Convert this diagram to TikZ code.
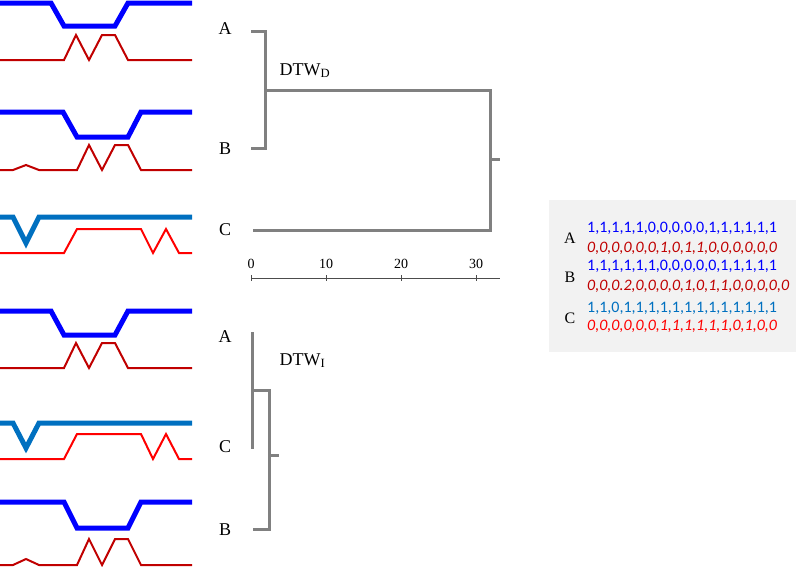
\documentclass[tikz,border=0pt]{standalone}
\usepackage{fontspec}
\setmainfont{Liberation Serif}
\newfontfamily\seqfont{Carlito}
\definecolor{seqblue}{HTML}{0000FF}
\definecolor{seqteal}{HTML}{0070C0}
\definecolor{seqdred}{HTML}{C00000}
\definecolor{seqred}{HTML}{FF0000}
\definecolor{treegray}{HTML}{808080}
\definecolor{boxgray}{HTML}{F2F2F2}
\tikzset{
  dimone/.style={draw=seqblue, line width=5pt},
  dimonec/.style={draw=seqteal, line width=5pt},
  dimtwo/.style={draw=seqdred, line width=2pt},
  dimtwoc/.style={draw=seqred, line width=2pt},
  tree/.style={draw=treegray, line width=3pt},
  axisline/.style={draw=black!70, line width=0.8pt},
  leaf/.style={font=\fontsize{18}{20}\selectfont, inner sep=0pt},
  seqline/.style={font=\seqfont\fontsize{16}{18}\selectfont, anchor=base west, inner sep=0pt}
}
\begin{document}
\begin{tikzpicture}[x=1pt, y=-1pt]
    \useasboundingbox (0,0) rectangle (800,566);

    % series A, B, C (top group)
    \path[dimone] (0,3) -- (51,3) -- (64,26) -- (115,26) -- (128,3) -- (192,3);
    \path[dimtwo] (0,60) -- (64,60) -- (76,35) -- (89,60) -- (102,35) -- (115,35) -- (128,60) -- (192,60);

    \path[dimone] (0,112) -- (63,112) -- (77,137) -- (128,137) -- (141,112) -- (192,112);
    \path[dimtwo] (0,170) -- (13,170) -- (26,165) -- (39,170) -- (77,170) -- (89,145) -- (102,170)
                  -- (115,145) -- (128,145) -- (141,170) -- (192,170);

    \path[dimonec] (0,217) -- (13,217) -- (26,243) -- (39,217) -- (192,217);
    \path[dimtwoc] (0,253) -- (64,253) -- (77,229) -- (141,229) -- (153,253) -- (166,229) -- (179,253) -- (192,253);

    % series A, C, B (bottom group)
    \path[dimone] (0,311) -- (51,311) -- (64,335) -- (115,335) -- (128,311) -- (192,311);
    \path[dimtwo] (0,368) -- (64,368) -- (76,343) -- (89,368) -- (102,343) -- (115,343) -- (128,368) -- (192,368);

    \path[dimonec] (0,423) -- (13,423) -- (26,448) -- (39,423) -- (192,423);
    \path[dimtwoc] (0,459) -- (64,459) -- (77,434) -- (141,434) -- (153,459) -- (166,434) -- (179,459) -- (192,459);

    \path[dimone] (0,502) -- (64,502) -- (77,528) -- (128,528) -- (141,502) -- (192,502);
    \path[dimtwo] (0,565) -- (13,565) -- (26,559) -- (39,565) -- (77,565) -- (89,539) -- (102,565)
                  -- (115,539) -- (128,539) -- (141,565) -- (192,565);

    % DTW_D dendrogram
    \node[leaf] (upA) at (225,29) {A};
    \node[leaf] (upB) at (225,149) {B};
    \node[leaf] (upC) at (225,230) {C};
    \coordinate (endA) at (251,31);
    \coordinate (endB) at (251,148);
    \coordinate (endC) at (253,230);
    \coordinate (joinAB) at (265,90);
    \coordinate (rootD) at (490,159);

    \path[tree] (endA) -- ++(14,0) |- (endB);
    \path[tree] (joinAB) -| (rootD) |- (endC);
    \path[tree] (rootD) -- ++(10,0);
    \node[font=\fontsize{18}{20}\selectfont, anchor=base west] (dtwd) at (276,75) {DTW\textsubscript{D}};

    % distance axis
    \path[axisline] (251,278) -- (500,278);
    \foreach \v/\x in {0/251,10/326,20/401,30/476} {
        \path[axisline] (\x,275) -- (\x,281);
        \node[font=\fontsize{14}{16}\selectfont, anchor=base, inner sep=0pt] (tick\v) at (\x,268) {\v};
    }

    % DTW_I dendrogram
    \node[leaf] (loA) at (225,337) {A};
    \node[leaf] (loC) at (225,447) {C};
    \node[leaf] (loB) at (225,530) {B};
    \coordinate (endA2) at (252,332);
    \coordinate (endC2) at (252,449);
    \coordinate (endB2) at (253,529);
    \coordinate (joinAC) at (252,390);
    \coordinate (rootI) at (269,455);

    \path[tree] (endA2) -- (endC2);
    \path[tree] (joinAC) -| (rootI) |- (endB2);
    \path[tree] (rootI) -- ++(10,0);
    \node[font=\fontsize{18}{20}\selectfont, anchor=base west] (dtwi) at (276,365) {DTW\textsubscript{I}};

    % sequences box
    \path[fill=boxgray] (549,200) rectangle (796,352);
    \node[font=\fontsize{16}{18}\selectfont, inner sep=0pt] (boxA) at (570,238) {A};
    \node[font=\fontsize{16}{18}\selectfont, inner sep=0pt] (boxB) at (570,277) {B};
    \node[font=\fontsize{16}{18}\selectfont, inner sep=0pt] (boxC) at (570,318) {C};
    \node[seqline, text=seqblue] (seqA1) at (587,232) {1,1,1,1,1,0,0,0,0,0,1,1,1,1,1,1};
    \node[seqline, text=seqdred] (seqA2) at (587,252) {\itshape 0,0,0,0,0,0,1,0,1,1,0,0,0,0,0,0};
    \node[seqline, text=seqblue] (seqB1) at (587,270) {1,1,1,1,1,1,0,0,0,0,0,1,1,1,1,1};
    \node[seqline, text=seqdred] (seqB2) at (587,290) {\itshape 0,0,0.2,0,0,0,0,1,0,1,1,0,0,0,0,0};
    \node[seqline, text=seqteal] (seqC1) at (587,312) {1,1,0,1,1,1,1,1,1,1,1,1,1,1,1,1};
    \node[seqline, text=seqred] (seqC2) at (587,330) {\itshape 0,0,0,0,0,0,1,1,1,1,1,1,0,1,0,0};

\end{tikzpicture}
\end{document}
